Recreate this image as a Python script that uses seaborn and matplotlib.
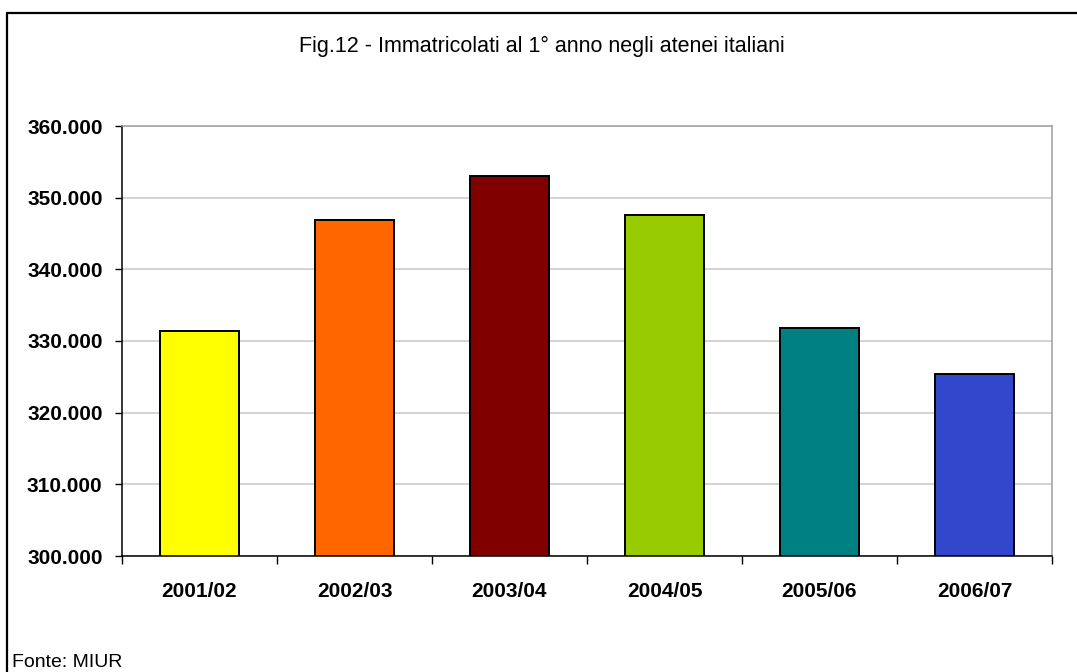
import matplotlib
matplotlib.use("Agg")
import matplotlib.pyplot as plt
from matplotlib.lines import Line2D
from matplotlib.ticker import FuncFormatter, FixedLocator
import seaborn as sns
import pandas as pd

# Academic years and first-year enrolments
anni = ["2001/02", "2002/03", "2003/04", "2004/05", "2005/06", "2006/07"]
immatricolati = [331400, 346900, 353000, 347600, 331800, 325400]
colori = ["#FFFF00", "#FF6600", "#800000", "#99CC00", "#008080", "#3347CC"]

titolo = "Fig.12 - Immatricolati al 1° anno negli atenei italiani"
fonte = "Fonte: MIUR"

sns.set_theme(style="white")
plt.rcParams["font.family"] = ["Liberation Sans", "DejaVu Sans"]
plt.rcParams["text.color"] = "black"
plt.rcParams["xtick.color"] = "black"
plt.rcParams["ytick.color"] = "black"
plt.rcParams["xtick.labelcolor"] = "black"
plt.rcParams["ytick.labelcolor"] = "black"

W, H = 1077, 672
fig = plt.figure(figsize=(W / 100, H / 100), dpi=100)
ax = fig.add_axes([122 / W, 1 - 556 / H, (1052 - 122) / W, (556 - 126) / H])

df = pd.DataFrame({"anno": anni, "valore": immatricolati})
sns.barplot(data=df, x="anno", y="valore", hue="anno", palette=colori,
            width=0.51, edgecolor="black", linewidth=1.4, saturation=1,
            legend=False, ax=ax)

ax.set_ylim(300000, 360000)
ax.set_xlim(-0.5, len(anni) - 0.5)
ax.set_yticks(range(300000, 360001, 10000))
ax.yaxis.set_major_formatter(FuncFormatter(lambda v, p: f"{int(v):,}".replace(",", ".")))
ax.set_xlabel("")
ax.set_ylabel("")

# category labels centred, tick marks on the boundaries between categories
ax.set_xticks(range(len(anni)))
ax.set_xticklabels(anni)
ax.xaxis.set_minor_locator(FixedLocator([i - 0.5 for i in range(len(anni) + 1)]))
ax.tick_params(axis="x", which="major", length=0, pad=19, labelsize=15,
               labelcolor="black")
ax.tick_params(axis="x", which="minor", length=6, width=1, color="black",
               direction="out", bottom=True)
ax.tick_params(axis="y", which="major", length=5, width=1, color="black",
               direction="out", left=True, pad=9, labelsize=15, labelcolor="black")
for lab in ax.get_xticklabels() + ax.get_yticklabels():
    lab.set_fontweight("bold")

ax.grid(axis="y", color="#C8C8C8", linewidth=1.1)
ax.grid(axis="x", visible=False)
ax.set_axisbelow(True)

for side in ("left", "bottom"):
    ax.spines[side].set_color("black")
    ax.spines[side].set_linewidth(1.1)
for side in ("top", "right"):
    ax.spines[side].set_visible(True)
    ax.spines[side].set_color("#A0A0A0")
    ax.spines[side].set_linewidth(1.1)

# frame of the chart area
fig.add_artist(Line2D([7 / W, 1.0], [1 - 13 / H, 1 - 13 / H], color="black", linewidth=1.6))
fig.add_artist(Line2D([7 / W, 7 / W], [0.0, 1 - 13 / H], color="black", linewidth=1.6))

fig.text(542 / W, 1 - 52 / H, titolo, ha="center", va="baseline", fontsize=15.5,
         color="black")
fig.text(12 / W, 1 - 667 / H, fonte, ha="left", va="baseline", fontsize=14,
         color="black")

fig.savefig("out.png", dpi=100)
